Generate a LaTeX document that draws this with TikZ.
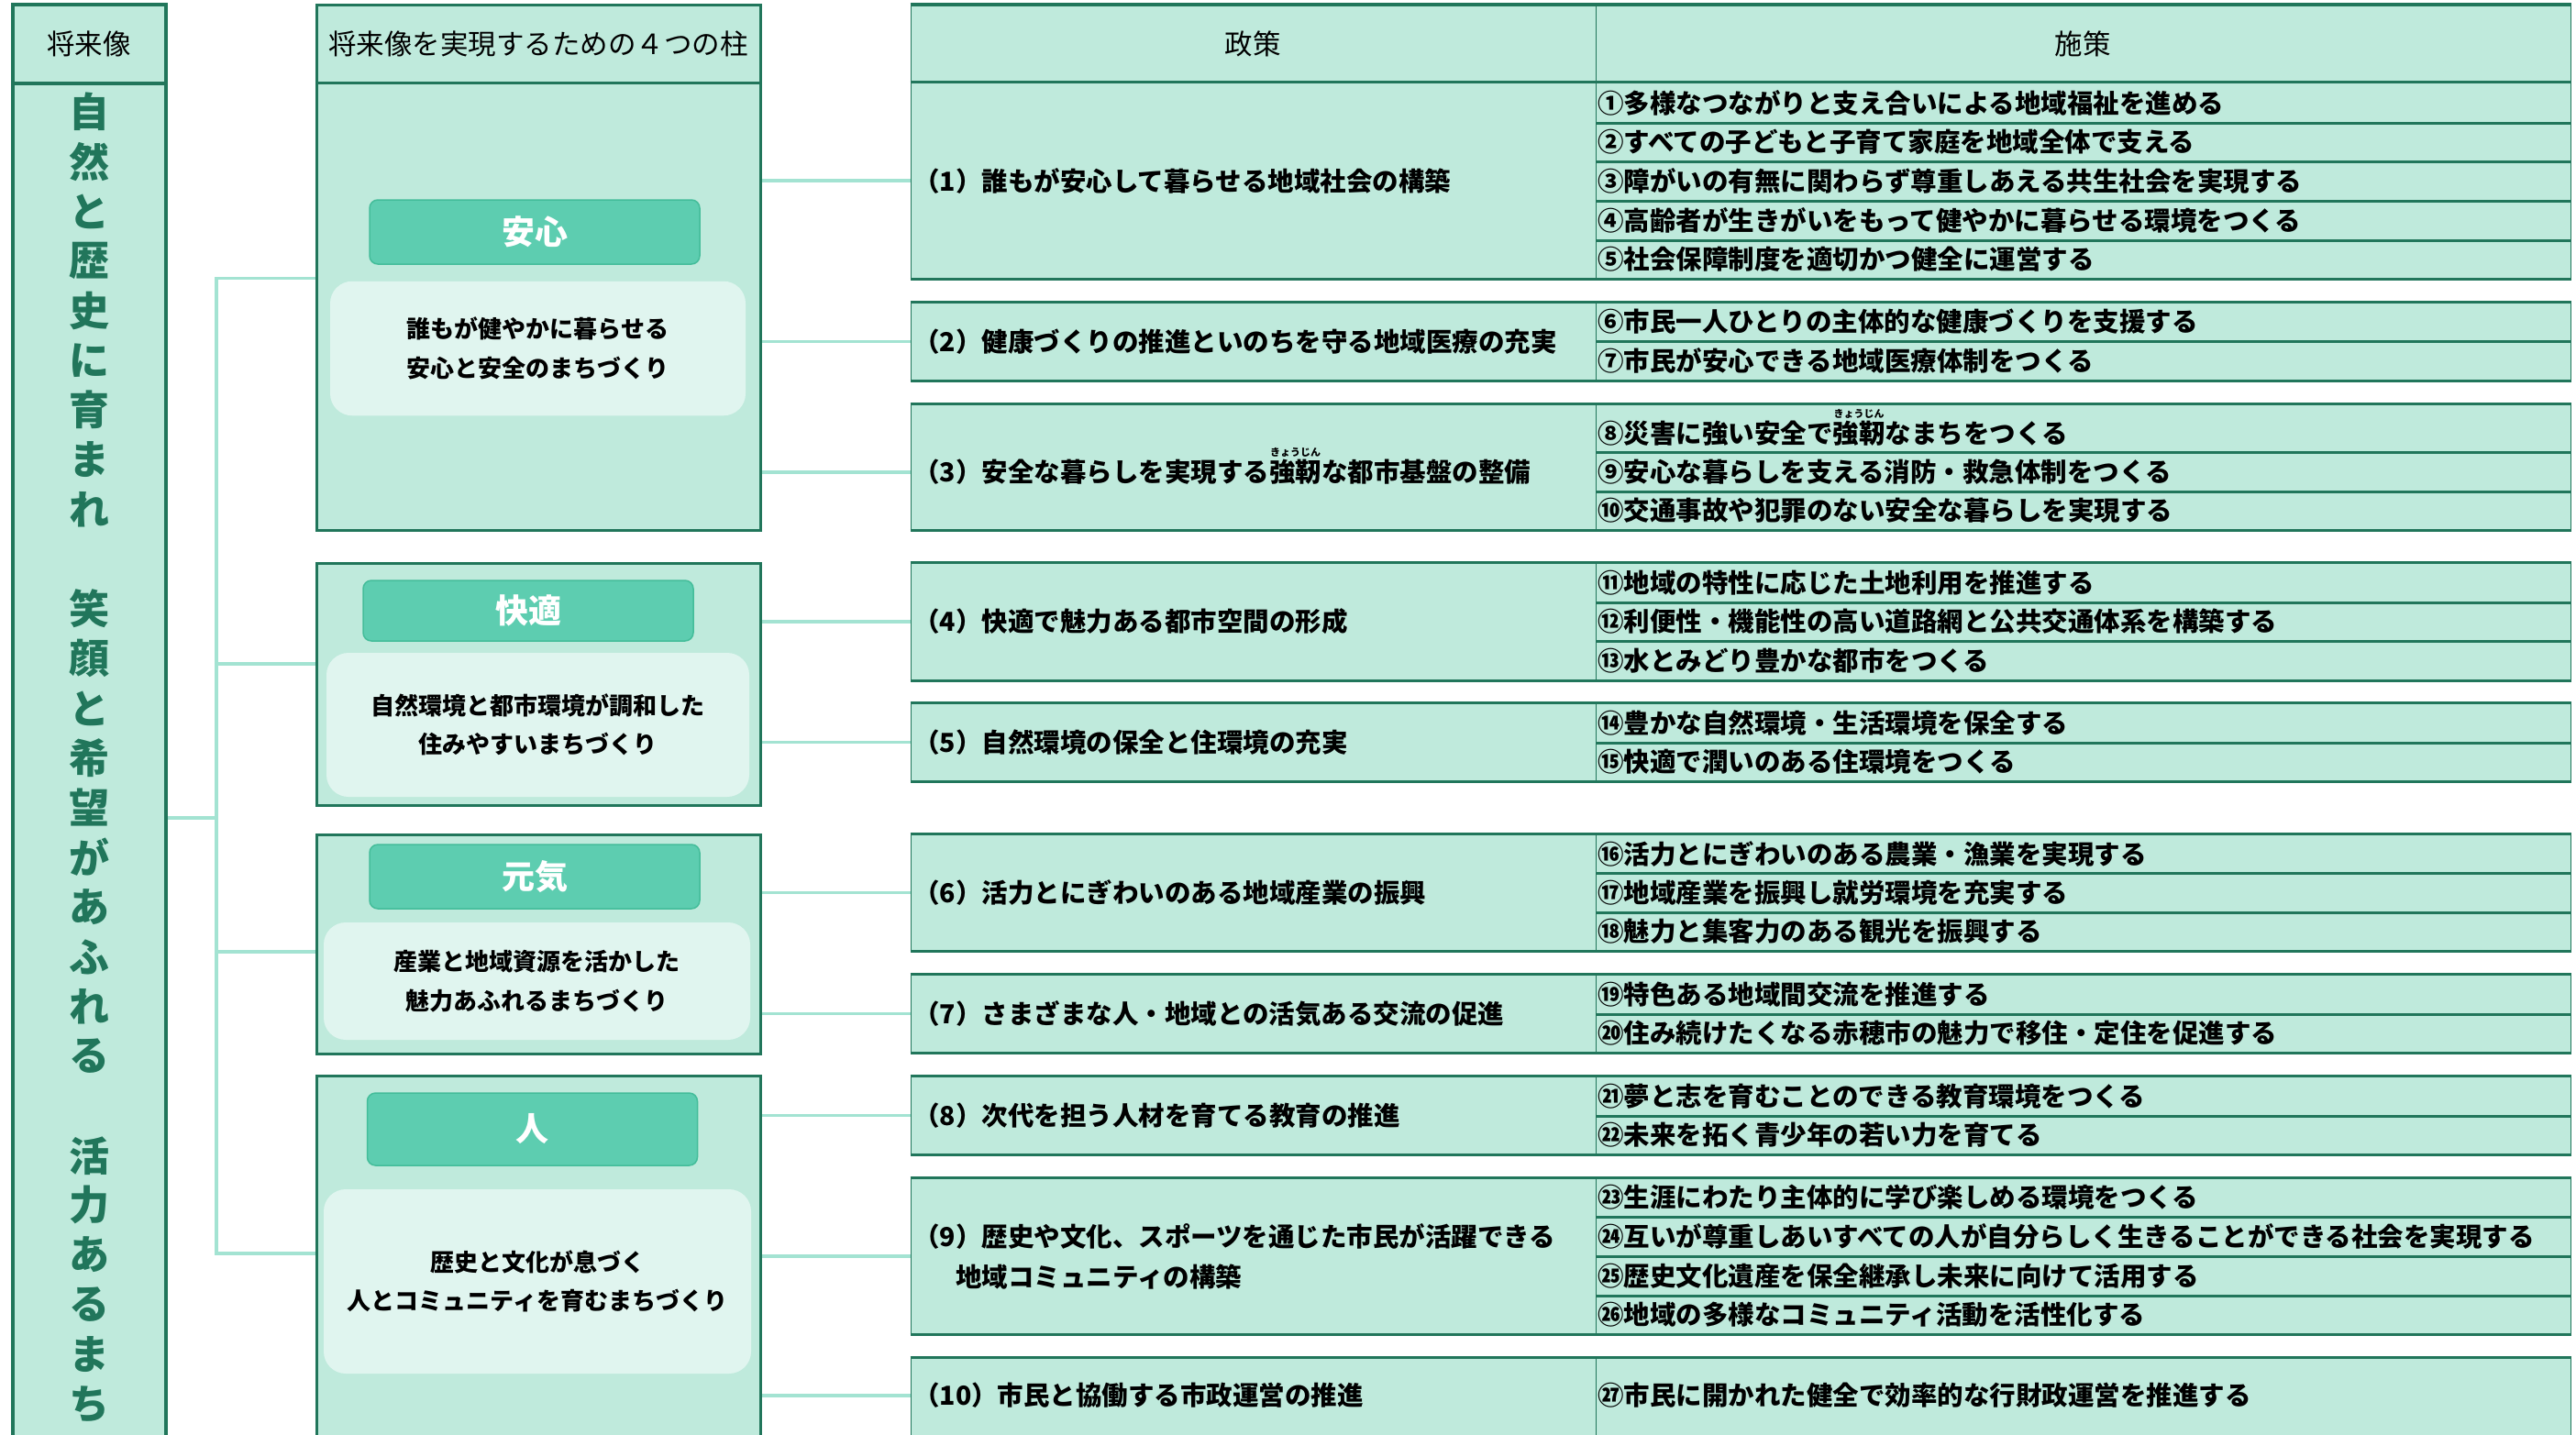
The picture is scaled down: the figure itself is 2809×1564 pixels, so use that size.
\documentclass[tikz,border=0pt]{standalone}
\usepackage{fontspec}
\newfontfamily\jp{Noto Sans CJK JP}
\usetikzlibrary{backgrounds}
\definecolor{deep}{HTML}{21765B}
\definecolor{mint}{HTML}{BFEADC}
\definecolor{tagfill}{HTML}{5DCDB0}
\definecolor{tagline}{HTML}{44BD9A}
\definecolor{pale}{HTML}{E0F5EF}
\definecolor{linkc}{HTML}{A3E3D2}
\newcommand{\furi}[2]{\leavevmode\setbox0\hbox{#1}\rlap{\raisebox{1em}[0pt][0pt]{\makebox[\wd0]{\fontsize{11}{11}\selectfont #2}}}\box0}

\begin{document}
\begin{tikzpicture}[x=1pt, y=-1pt,
    box/.style={draw=deep, fill=mint, line width=3pt, inner sep=0pt},
    hdtext/.style={font=\jp\fontsize{30.5}{34}\selectfont},
    tag/.style={draw=tagline, fill=tagfill, line width=1.5pt, rounded corners=9pt, minimum width=360, text=white, font=\jp\bfseries\fontsize{36}{40}\selectfont},
    desc/.style={fill=pale, rounded corners=24pt, align=center, font=\jp\bfseries\fontsize{26}{42.5}\selectfont},
    vchar/.style={text=deep, inner sep=0pt, font=\jp\bfseries\fontsize{44}{48}\selectfont},
    grp/.style={draw=deep, fill=mint, line width=1pt, minimum width=1810, inner sep=0pt},
    tabrule/.style={draw=deep, line width=3.5pt},
    pol/.style={anchor=west, inner sep=0pt, align=left, font=\jp\bfseries\fontsize{28.5}{44}\selectfont},
    item/.style={anchor=west, inner sep=0pt, font=\jp\bfseries\fontsize{28.5}{34}\selectfont},
    link/.style={draw=linkc, line width=3.5pt}]
    \useasboundingbox (0,0) rectangle (2809,1564);
    \clip (0,0) rectangle (2809,1564);

    % vision
    \node[box, line width=4pt, minimum width=167, minimum height=86, hdtext] (vh) at (97,47.6) {将来像};
    \node[box, line width=4pt, minimum width=167, minimum height=1509] (vb) at (97,845.2) {};
    \foreach \c [count=\k from 0] in {自,然,と,歴,史,に,育,ま,れ,{},笑,顔,と,希,望,が,あ,ふ,れ,る,{},活,力,あ,る,ま,ち}
        \node[vchar] (v\k) at (97,{122+54.2*\k}) {\c};

    % pillars
    \node[box, minimum width=484, minimum height=85, hdtext] (ph) at (587,48.2) {将来像を実現するための４つの柱};
    \node[box, minimum width=484, minimum height=487.3] (p1) at (587,334.35) {};
    \node[box, minimum width=484, minimum height=264] (p2) at (587,746) {};
    \node[box, minimum width=484, minimum height=239] (p3) at (587,1029.5) {};
    \node[box, minimum width=484, minimum height=430] (p4) at (587,1388) {};

    \node[tag, minimum height=70] (t1) at (583,253) {安心};
    \node[tag, minimum height=66] (t2) at (576,666) {快適};
    \node[tag, minimum height=70] (t3) at (583,956) {元気};
    \node[tag, minimum height=79] (t4) at (580.5,1231.5) {人};

    \node[desc, minimum width=453, minimum height=146.5] (d1) at (586.5,380) {誰もが健やかに暮らせる\\安心と安全のまちづくり};
    \node[desc, minimum width=461, minimum height=157] (d2) at (586.5,790.5) {自然環境と都市環境が調和した\\住みやすいまちづくり};
    \node[desc, minimum width=465, minimum height=128] (d3) at (585.5,1070) {産業と地域資源を活かした\\魅力あふれるまちづくり};
    \node[desc, minimum width=466, minimum height=201] (d4) at (586,1397.5) {歴史と文化が息づく\\人とコミュニティを育むまちづくり};

    % table
    \coordinate (col) at (1740,0);
    \foreach \g/\ya/\yb in {0/5.7/90,1/90/304,2/330/415,3/441/578,4/614/742,5/767/852,6/910/1037,7/1063/1148,8/1174/1259,9/1285/1455,10/1481/1580} {
        \node[grp, minimum height={\yb-\ya}] (g\g) at (1898,{(\ya+\yb)/2}) {};
        \draw[tabrule] (g\g.north west) -- (g\g.north east) (g\g.south west) -- (g\g.south east);
        \draw[deep, line width=1pt] (g\g.north -| col) -- (g\g.south -| col);
    }
    \foreach \y in {134,176,219,262,372,493,536,657,699,810,952,995,1106,1217,1327,1370,1413}
        \draw[deep, line width=3pt] (1740,\y) -- (2803,\y);

    \node[hdtext] (hp) at (1366,48) {政策};
    \node[hdtext] (hm) at (2271,48) {施策};

    \foreach \n/\y/\txt in {
        1/197/{（1）誰もが安心して暮らせる地域社会の構築},
        2/372.5/{（2）健康づくりの推進といのちを守る地域医療の充実},
        3/515/{（3）安全な暮らしを実現する\furi{強靭}{きょうじん}な都市基盤の整備},
        4/678/{（4）快適で魅力ある都市空間の形成},
        5/809.5/{（5）自然環境の保全と住環境の充実},
        6/973.5/{（6）活力とにぎわいのある地域産業の振興},
        7/1105.5/{（7）さまざまな人・地域との活気ある交流の促進},
        8/1216.5/{（8）次代を担う人材を育てる教育の推進},
        9/1370/{（9）歴史や文化、スポーツを通じた市民が活躍できる\\\hspace*{46pt}地域コミュニティの構築},
        10/1522/{（10）市民と協働する市政運営の推進}}
        \node[pol] (pol\n) at (996,\y) {\txt};

    \foreach \n/\y/\txt in {
        1/112/①多様なつながりと支え合いによる地域福祉を進める,
        2/155/②すべての子どもと子育て家庭を地域全体で支える,
        3/197.5/③障がいの有無に関わらず尊重しあえる共生社会を実現する,
        4/240.5/④高齢者が生きがいをもって健やかに暮らせる環境をつくる,
        5/283/⑤社会保障制度を適切かつ健全に運営する,
        6/351/⑥市民一人ひとりの主体的な健康づくりを支援する,
        7/393.5/⑦市民が安心できる地域医療体制をつくる,
        8/473/{⑧災害に強い安全で\furi{強靭}{きょうじん}なまちをつくる},
        9/514.5/⑨安心な暮らしを支える消防・救急体制をつくる,
        10/557/⑩交通事故や犯罪のない安全な暮らしを実現する,
        11/635.5/⑪地域の特性に応じた土地利用を推進する,
        12/678/⑫利便性・機能性の高い道路網と公共交通体系を構築する,
        13/720.5/⑬水とみどり豊かな都市をつくる,
        14/788.5/⑭豊かな自然環境・生活環境を保全する,
        15/831/⑮快適で潤いのある住環境をつくる,
        16/931/⑯活力とにぎわいのある農業・漁業を実現する,
        17/973.5/⑰地域産業を振興し就労環境を充実する,
        18/1016/⑱魅力と集客力のある観光を振興する,
        19/1084.5/⑲特色ある地域間交流を推進する,
        20/1127/⑳住み続けたくなる赤穂市の魅力で移住・定住を促進する,
        21/1195.5/㉑夢と志を育むことのできる教育環境をつくる,
        22/1238/㉒未来を拓く青少年の若い力を育てる,
        23/1306/㉓生涯にわたり主体的に学び楽しめる環境をつくる,
        24/1348.5/㉔互いが尊重しあいすべての人が自分らしく生きることができる社会を実現する,
        25/1391.5/㉕歴史文化遺産を保全継承し未来に向けて活用する,
        26/1434/㉖地域の多様なコミュニティ活動を活性化する,
        27/1522/㉗市民に開かれた健全で効率的な行財政運営を推進する}
        \node[item] (m\n) at (1742,\y) {\txt};

    % connectors
    \begin{scope}[on background layer]
        \coordinate (hub) at (236,892);
        \coordinate (b1) at (236,303.5);
        \coordinate (b2) at (236,724);
        \coordinate (b3) at (236,1038);
        \coordinate (b4) at (236,1367);
        \draw[link] (vb.east |- hub) -- (hub);
        \draw[link] (b1 -| p1.west) -- (b1) -- (b4) -- (b4 -| p4.west);
        \draw[link] (b2) -- (b2 -| p2.west);
        \draw[link] (b3) -- (b3 -| p3.west);
        \foreach \n/\p in {1/1,2/1,3/1,4/2,5/2,6/3,7/3,8/4,9/4,10/4}
            \draw[link] (pol\n.west -| p\p.east) -- (pol\n.west -| g\n.west);
    \end{scope}
\end{tikzpicture}
\end{document}
